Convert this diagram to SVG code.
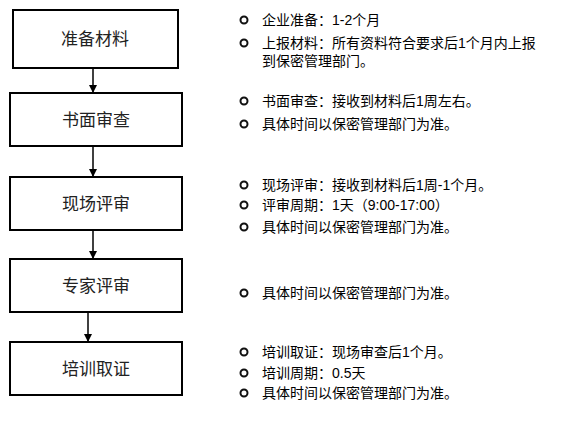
<svg xmlns="http://www.w3.org/2000/svg" width="584" height="429" viewBox="0 0 584 429">
<style>
.box{fill:#fff;stroke:#000;stroke-width:2}
.bt{font-family:"Liberation Sans","Noto Sans CJK SC",sans-serif;font-size:17px;fill:#222;text-anchor:middle}
.t{font-family:"Liberation Sans","Noto Sans CJK SC",sans-serif;font-size:14px;fill:#000}
.b{fill:#fff;stroke:#111;stroke-width:2}
.c{stroke:#000;stroke-width:1.5;fill:none}
</style>
<defs>
<marker id="ah" markerWidth="8" markerHeight="8" refX="7" refY="4" orient="auto" markerUnits="userSpaceOnUse">
<path d="M0,0 L8,4 L0,8 Z" fill="#000"/>
</marker>
</defs>
<g id="connectors">
<line class="c" x1="93" y1="68" x2="93" y2="92" marker-end="url(#ah)"/>
<line class="c" x1="93" y1="146" x2="93" y2="176" marker-end="url(#ah)"/>
<line class="c" x1="93" y1="230" x2="93" y2="258" marker-end="url(#ah)"/>
<line class="c" x1="88" y1="312" x2="88" y2="341" marker-end="url(#ah)"/>
</g>
<g id="n1"><rect class="box" x="13" y="10" width="165" height="58"/><text class="bt" x="95" y="45">准备材料</text></g>
<g id="n2"><rect class="box" x="10" y="93" width="172" height="53"/><text class="bt" x="96" y="126">书面审查</text></g>
<g id="n3"><rect class="box" x="10" y="177" width="172" height="53"/><text class="bt" x="96" y="210">现场评审</text></g>
<g id="n4"><rect class="box" x="10" y="259" width="172" height="53"/><text class="bt" x="96" y="292">专家评审</text></g>
<g id="n5"><rect class="box" x="10" y="342" width="172" height="53"/><text class="bt" x="96" y="375">培训取证</text></g>
<g id="notes">
<circle class="b" cx="244" cy="20" r="3.5"/><text class="t" x="262" y="25">企业准备：1-2个月</text>
<circle class="b" cx="244" cy="43" r="3.5"/><text class="t" x="262" y="48">上报材料：所有资料符合要求后1个月内上报</text>
<text class="t" x="262" y="66">到保密管理部门。</text>
<circle class="b" cx="244" cy="101" r="3.5"/><text class="t" x="262" y="106">书面审查：接收到材料后1周左右。</text>
<circle class="b" cx="244" cy="124" r="3.5"/><text class="t" x="262" y="129">具体时间以保密管理部门为准。</text>
<circle class="b" cx="244" cy="185" r="3.5"/><text class="t" x="262" y="190">现场评审：接收到材料后1周-1个月。</text>
<circle class="b" cx="244" cy="205" r="3.5"/><text class="t" x="262" y="210">评审周期：1天（9:00-17:00）</text>
<circle class="b" cx="244" cy="227" r="3.5"/><text class="t" x="262" y="232">具体时间以保密管理部门为准。</text>
<circle class="b" cx="244" cy="293" r="3.5"/><text class="t" x="262" y="298">具体时间以保密管理部门为准。</text>
<circle class="b" cx="244" cy="352" r="3.5"/><text class="t" x="262" y="357">培训取证：现场审查后1个月。</text>
<circle class="b" cx="244" cy="373" r="3.5"/><text class="t" x="262" y="378">培训周期：0.5天</text>
<circle class="b" cx="244" cy="393" r="3.5"/><text class="t" x="262" y="398">具体时间以保密管理部门为准。</text>
</g>
</svg>
